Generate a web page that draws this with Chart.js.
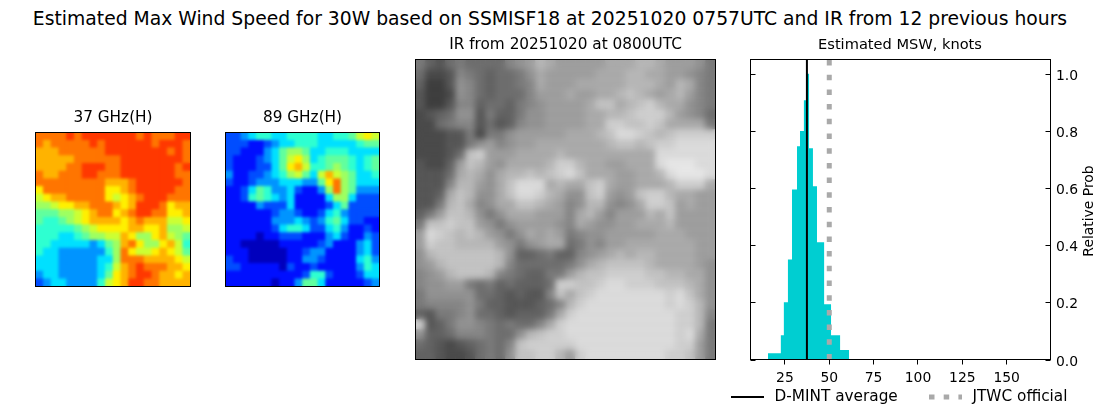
<!DOCTYPE html>
<html>
<head>
<meta charset="utf-8">
<title>Estimated Max Wind Speed</title>
<script src="https://cdn.jsdelivr.net/npm/chart.js@4"></script>
<style>
    body { margin: 0; background: #fff; width: 1100px; height: 409px; overflow: hidden; position: relative; }
    canvas { position: absolute; }
    #suptitle {
        position: absolute; left: 0; top: 8px; width: 1100px; text-align: center;
        font: 18.75px "DejaVu Sans"; color: #000; white-space: nowrap;
    }
</style>
</head>
<body>
<div id="suptitle">Estimated Max Wind Speed for 30W based on SSMISF18 at 20251020 0757UTC and IR from 12 previous hours</div>
<canvas id="ghz37" width="174" height="190" style="left:26px;top:105px"></canvas>
<canvas id="ghz89" width="174" height="190" style="left:216px;top:105px"></canvas>
<canvas id="irImage" width="320" height="340" style="left:406px;top:30px"></canvas>
<canvas id="mswChart" width="400" height="379" style="left:700px;top:30px"></canvas>
<script>
// 37 GHz brightness, one hex digit per cell (jet level)
const ghz37Rows = [
    "ccccdcdddddddcdcccdd",
    "cbcccccdcddddddcdddc",
    "bbbccccccddddddddcdc",
    "bbbbbccccccddddddddc",
    "bbbbccdddccdddddddcd",
    "cbbcccddcccdddddddcc",
    "cccccccccbbbcddddddc",
    "accccccccaabcdddddcc",
    "9abbccccca9abcdddccc",
    "889aabbcccbabdddcabb",
    "777889abccabcddccaab",
    "766789abbbbabcbbb99a",
    "66666789aaaabbaab889",
    "66655678899ba88ab987",
    "66555554578bca88ab96",
    "65544444468ca99aba97",
    "55544444558cccbbbba9",
    "55544444569bcdcccbba",
    "4554444457abcddcbbab",
    "3455444469abddccbbbb",
];

// 89 GHz brightness
const ghz89Rows = [
    "334566556666556679a9",
    "33322345566655555677",
    "33222457887556665555",
    "322234579a8567776567",
    "32223357ab9667876567",
    "4223345689759b987556",
    "3223444555447ac87555",
    "22357644532248c87444",
    "22367654522225885333",
    "22224333522223573333",
    "22222234432235643333",
    "22222244454346753322",
    "22222235665335642232",
    "22221223332224532243",
    "22111112222234222453",
    "22211111223442222453",
    "32211111224432222564",
    "33222221322322222465",
    "22222222223663222355",
    "22222212247752222234",
];

// IR image, one hex digit per cell (gray level)
const irRows = [
    "643565555789ba99999aaabba99986",
    "522376545568a99999aaabbaa99876",
    "411387545567a999aaaaabbba9ba76",
    "311287545557999a99aabcba9ab976",
    "31137745546789999accabcdbaa876",
    "23458836446889999aabbcdddb9875",
    "22567735347889999aaddccdcaaaa6",
    "222336266899999aaabceedcbcdddd",
    "222336897899aaaaaaabccbcddeeee",
    "22235cd999aaaabaaaaaaaaaeeeeee",
    "32249cb98aaaabddbaa99aaaefffee",
    "3335aba8abbcbcdecaaa99aabefffe",
    "3337bb98aceeeabaacda99aaabddda",
    "334acb88aceedba88cd989cddbaa99",
    "336bca78aaccba978bb878addc9a99",
    "469ccb868aaa9997ab97999bac9999",
    "6ccdcc9868999987a98899aaab9999",
    "9edcbcb9868a9a9678899999aaa999",
    "9dccbbbb98689aa568799aaaaaaa99",
    "8bccccccb8445644789ababbaaaa99",
    "89bcccccb75555568abccccbaaaa98",
    "789bcccb76544669bccddddccbbaa8",
    "78899656454445ddccdeedddcccba8",
    "68888855434337cacdeeeeeeedeca8",
    "677778644333457bdeeeeeeeededb8",
    "43667855434446adeeeeeeeeeeddb7",
    "d346887656557adeeeeeeeeeeeddb6",
    "84457776558bcddeeeeeeeeeeedea6",
    "5432345657cdddddeeeeeeeeeedd96",
    "4432235658ccddb9deeeeeeeeddc96",
];

// Histogram of estimated MSW
const binEdges = [15.4, 22.7, 24.4, 26.7, 29, 31.8, 33.5, 35.7, 37.4, 38.6, 40.8, 43.1, 47.1, 51, 56.1, 61.2];
const binHeights = [0.022, 0.085, 0.2, 0.35, 0.595, 0.746, 0.8, 0.907, 1.0, 0.739, 0.606, 0.41, 0.193, 0.085, 0.033, 0];
const dmintAverage = 37.4;
const jtwcOfficial = 50;
const xTicks = [25, 50, 75, 100, 125, 150];
const yTicks = [0, 0.2, 0.4, 0.6, 0.8, 1.0];

const jetStops = [0, 0.06, 0.14, 0.2, 0.27, 0.345, 0.42, 0.47, 0.53, 0.575, 0.64, 0.7, 0.76, 0.82, 0.88, 0.95];
const textFont = "DejaVu Sans";

Chart.defaults.font.family = textFont;
Chart.defaults.color = "#000";

function clamp01(v) {
    return Math.max(0, Math.min(1, v));
}

function jetColor(level) {
    const t = jetStops[level];
    const r = clamp01(1.5 - Math.abs(4 * t - 3));
    const g = clamp01(1.5 - Math.abs(4 * t - 2));
    const b = clamp01(1.5 - Math.abs(4 * t - 1));
    return `rgb(${Math.round(r * 255)},${Math.round(g * 255)},${Math.round(b * 255)})`;
}

function grayColor(level) {
    const v = 50 + 12 * level;
    return `rgb(${v},${v},${v})`;
}

// Black box round the plot area
const framePlugin = {
    id: "frame",
    afterDraw(chart) {
        const a = chart.chartArea;
        const ctx = chart.ctx;
        ctx.save();
        ctx.strokeStyle = "#000";
        ctx.lineWidth = 1;
        ctx.strokeRect(a.left, a.top, a.width, a.height);
        ctx.restore();
    },
};

// Soften the drawn cells, the source images are smoothed too
const softenPlugin = {
    id: "soften",
    afterDatasetsDraw(chart, args, opts) {
        const a = chart.chartArea;
        const ctx = chart.ctx;
        const copy = document.createElement("canvas");
        copy.width = chart.width;
        copy.height = chart.height;
        copy.getContext("2d").drawImage(chart.canvas, 0, 0);
        ctx.save();
        ctx.beginPath();
        ctx.rect(a.left, a.top, a.width, a.height);
        ctx.clip();
        ctx.filter = `blur(${opts.amount}px)`;
        ctx.drawImage(copy, 0, 0);
        ctx.restore();
    },
};

// One image panel, each cell is a square point on the scales
function drawPanel(id, rows, colorOf, title, titlePad, blurAmount) {
    const n = rows.length;
    const canvas = document.getElementById(id);
    const cell = (canvas.width - titlePad.layout.left - titlePad.layout.right) / n;
    const points = [];
    const colors = [];
    rows.forEach((row, r) => {
        [...row].forEach((ch, c) => {
            points.push({ x: c + 0.5, y: r + 0.5 });
            colors.push(colorOf(parseInt(ch, 16)));
        });
    });
    return new Chart(canvas, {
        type: "scatter",
        data: {
            datasets: [
                {
                    data: points,
                    backgroundColor: colors,
                    borderWidth: 0,
                    pointStyle: "rect",
                    pointRadius: cell * Math.SQRT1_2 + 0.4,
                },
            ],
        },
        options: {
            responsive: false,
            animation: false,
            devicePixelRatio: 1,
            layout: { padding: titlePad.layout },
            plugins: {
                legend: { display: false },
                tooltip: { enabled: false },
                soften: { amount: blurAmount },
                title: {
                    display: true,
                    text: title,
                    font: { size: 15.3, weight: "normal", lineHeight: 1.2 },
                    padding: titlePad.title,
                },
            },
            scales: {
                x: { display: false, min: 0, max: n },
                y: { display: false, min: 0, max: n, reverse: true },
            },
        },
        plugins: [softenPlugin, framePlugin],
    });
}

drawPanel("ghz37", ghz37Rows, jetColor, "37 GHz(H)", {
    layout: { left: 9.5, right: 9.5, top: 3.8, bottom: 8.5 },
    title: { top: 0, bottom: 5.34 },
}, 1.8);
drawPanel("ghz89", ghz89Rows, jetColor, "89 GHz(H)", {
    layout: { left: 9.5, right: 10.5, top: 3.8, bottom: 8.5 },
    title: { top: 0, bottom: 5.34 },
}, 1.8);
drawPanel("irImage", irRows, grayColor, "IR from 20251020 at 0800UTC", {
    layout: { left: 9.5, right: 10.5, top: 5.82, bottom: 10.5 },
    title: { top: 0, bottom: 5.32 },
}, 3);

// Inward y ticks, rotated axis label and the legend below the plot
const mswDecor = {
    id: "mswDecor",
    afterDraw(chart) {
        const a = chart.chartArea;
        const ctx = chart.ctx;
        ctx.save();
        ctx.strokeStyle = "#000";
        ctx.lineWidth = 1;
        yTicks.forEach((v) => {
            const y = Math.round(chart.scales.y.getPixelForValue(v)) + 0.5;
            ctx.beginPath();
            ctx.moveTo(a.left, y);
            ctx.lineTo(a.left + 5, y);
            ctx.moveTo(a.right - 5, y);
            ctx.lineTo(a.right, y);
            ctx.stroke();
        });

        ctx.fillStyle = "#000";
        ctx.font = `13.9px "${textFont}"`;
        ctx.textAlign = "center";
        ctx.textBaseline = "middle";
        ctx.translate(389, 181);
        ctx.rotate(-Math.PI / 2);
        ctx.fillText("Relative Prob", 0, 0);
        ctx.restore();

        ctx.save();
        ctx.font = `15.3px "${textFont}"`;
        ctx.textBaseline = "middle";
        ctx.fillStyle = "#000";
        const legendY = 367;
        chart.data.datasets.slice(1).forEach((ds, i) => {
            const left = [31, 229][i];
            ctx.strokeStyle = ds.borderColor;
            ctx.lineWidth = ds.borderWidth;
            ctx.setLineDash(ds.borderDash || []);
            ctx.beginPath();
            ctx.moveTo(left, legendY);
            ctx.lineTo(left + 33, legendY);
            ctx.stroke();
            ctx.fillText(ds.label, left + 43.5, legendY);
        });
        ctx.restore();
    },
};

new Chart(document.getElementById("mswChart"), {
    type: "line",
    data: {
        datasets: [
            {
                label: "MSW",
                data: binEdges.map((x, i) => ({ x: x, y: binHeights[i] })),
                stepped: "before",
                fill: "origin",
                backgroundColor: "#00CED1",
                borderWidth: 0,
                pointRadius: 0,
                order: 3,
            },
            {
                label: "D-MINT average",
                data: [
                    { x: dmintAverage, y: 0 },
                    { x: dmintAverage, y: 1.05 },
                ],
                borderColor: "#000",
                borderWidth: 2,
                pointRadius: 0,
                order: 2,
            },
            {
                label: "JTWC official",
                data: [
                    { x: jtwcOfficial, y: 0 },
                    { x: jtwcOfficial, y: 1.05 },
                ],
                borderColor: "#A9A9A9",
                borderWidth: 5,
                borderDash: [5.5, 9.2],
                pointRadius: 0,
                order: 1,
            },
        ],
    },
    options: {
        responsive: false,
        animation: false,
        devicePixelRatio: 1,
        layout: { padding: { left: 0, top: 6.24, right: 0, bottom: 0 } },
        plugins: {
            legend: { display: false },
            tooltip: { enabled: false },
            title: {
                display: true,
                text: "Estimated MSW, knots",
                font: { size: 14.6, weight: "normal", lineHeight: 1.2 },
                padding: { top: 0, bottom: 5.74 },
            },
        },
        scales: {
            x: {
                type: "linear",
                min: 5.6,
                max: 174.7,
                afterBuildTicks: (scale) => {
                    scale.ticks = xTicks.map((v) => ({ value: v }));
                },
                afterFit: (scale) => {
                    scale.height = 49.5;
                },
                border: { display: false },
                grid: { drawOnChartArea: false, tickLength: 5, tickColor: "#000", tickWidth: 1 },
                ticks: { font: { size: 13.9 }, padding: 6, maxRotation: 0, autoSkip: false },
            },
            y: {
                position: "right",
                min: 0,
                max: 1.05,
                afterBuildTicks: (scale) => {
                    scale.ticks = yTicks.map((v) => ({ value: v }));
                },
                afterFit: (scale) => {
                    scale.width = 49.5;
                },
                border: { display: false },
                grid: { display: false, drawTicks: false },
                ticks: {
                    font: { size: 13.9 },
                    padding: 5.5,
                    labelOffset: 2.5,
                    autoSkip: false,
                    callback: (v) => Number(v).toFixed(1),
                },
            },
            // keeps the plot left edge in place so the title stays centred on the canvas
            yLeft: {
                position: "left",
                afterFit: (scale) => {
                    scale.width = 50.5;
                },
                border: { display: false },
                grid: { display: false, drawTicks: false },
                ticks: { display: false },
            },
        },
    },
    plugins: [framePlugin, mswDecor],
});
</script>
</body>
</html>
